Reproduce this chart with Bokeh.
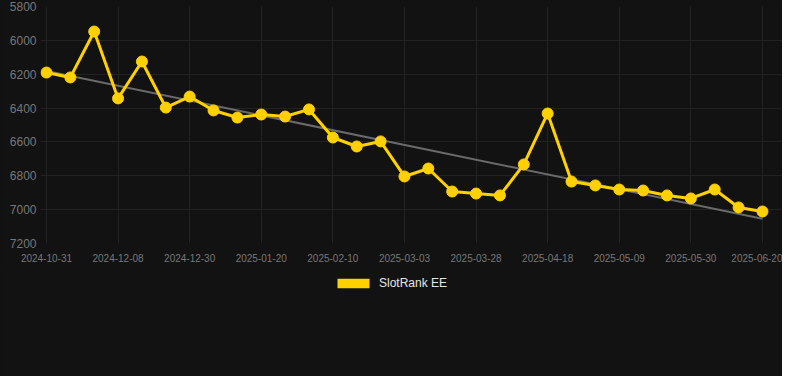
import numpy as np
from bokeh.plotting import figure
from bokeh.layouts import column
from bokeh.models import Range1d, FixedTicker, Legend, LegendItem
from bokeh.embed import file_html
from bokeh.resources import INLINE

# ---- data ----
series_name = "SlotRank EE"
rank_values = [6190, 6219, 5948, 6343, 6125, 6397, 6332, 6414, 6456, 6438,
               6450, 6408, 6574, 6627, 6597, 6804, 6757, 6893, 6905, 6916,
               6733, 6432, 6834, 6857, 6881, 6887, 6916, 6934, 6881, 6987, 7011]
tick_labels = ["2024-10-31", "2024-12-08", "2024-12-30", "2025-01-20", "2025-02-10",
               "2025-03-03", "2025-03-28", "2025-04-18", "2025-05-09", "2025-05-30",
               "2025-06-20"]
tick_step = 3
y_ticks = [5800, 6000, 6200, 6400, 6600, 6800, 7000, 7200]

# ---- derived ----
xs = list(range(len(rank_values)))
coef = np.polyfit(xs, rank_values, 1)
trend = [float(coef[0] * x + coef[1]) for x in (xs[0], xs[-1])]

BG = "#121212"
GOLD = "#FFD100"
W = 782
dark = {"background-color": BG}

p = figure(width=W, height=270, output_backend="svg", toolbar_location=None,
           x_range=Range1d(-0.25, 30.84), y_range=Range1d(7200, 5800),
           background_fill_color=BG, border_fill_color=BG, styles=dark,
           min_border_left=40, min_border_right=0, min_border_top=6,
           min_border_bottom=27)
p.outline_line_color = None

p.xgrid.grid_line_color = "#222222"
p.ygrid.grid_line_color = "#222222"

p.xaxis.ticker = FixedTicker(ticks=[i * tick_step for i in range(len(tick_labels))])
p.xaxis.major_label_overrides = {i * tick_step: lab for i, lab in enumerate(tick_labels)}
p.yaxis.ticker = FixedTicker(ticks=y_ticks)
for ax in (p.xaxis, p.yaxis):
    ax.axis_line_color = None
    ax.major_tick_line_color = None
    ax.minor_tick_line_color = None
    ax.major_tick_out = 0
    ax.major_tick_in = 0
    ax.major_label_text_color = "#777777"
    ax.major_label_text_font = "Liberation Sans"
p.xaxis.major_label_text_font_size = "10px"
p.yaxis.major_label_text_font_size = "12px"
p.xaxis.major_label_standoff = 10
p.yaxis.major_label_standoff = 4

p.line([xs[0], xs[-1]], trend, line_color="#6a6a6a", line_width=2)
p.line(xs, rank_values, line_color=GOLD, line_width=3)
p.scatter(xs, rank_values, size=11, fill_color=GOLD, line_color=GOLD)

# legend strip below the chart
lg = figure(width=W, height=106, output_backend="svg", toolbar_location=None,
            x_axis_type=None, y_axis_type=None,
            x_range=Range1d(0, 1), y_range=Range1d(0, 1),
            background_fill_color=BG, border_fill_color=BG, styles=dark,
            min_border_left=40, min_border_right=0, min_border_top=0, min_border_bottom=0)
lg.outline_line_color = None
swatch = lg.quad(left=[xs[0]], right=[xs[0]], top=[rank_values[0]], bottom=[rank_values[0]],
                 fill_color=GOLD, line_color=None, visible=False)
legend = Legend(items=[LegendItem(label=series_name, renderers=[swatch])],
                orientation="horizontal", location=(293, 86),
                background_fill_alpha=0, border_line_color=None,
                label_text_color="#e6e6e6", label_text_font="Liberation Sans",
                label_text_font_size="12px", glyph_width=40, glyph_height=12,
                label_standoff=6, padding=0, margin=0, label_height=12)
lg.add_layout(legend, "center")

layout = column(p, lg, spacing=0, styles=dark)
open("out.html", "w").write(file_html(layout, INLINE))
